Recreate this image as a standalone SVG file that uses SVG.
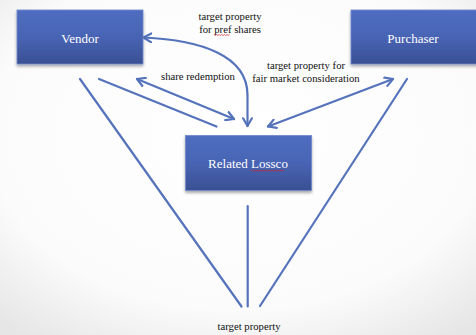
<svg xmlns="http://www.w3.org/2000/svg" width="476" height="335" viewBox="0 0 476 335">
<defs>
<radialGradient id="bg" cx="0.5" cy="0.4" r="0.75">
<stop offset="0" stop-color="#ffffff"/>
<stop offset="0.7" stop-color="#fbfbfb"/>
<stop offset="1" stop-color="#e6e6e6"/>
</radialGradient>
<linearGradient id="box" x1="0" y1="0" x2="0" y2="1">
<stop offset="0" stop-color="#4f6dc0"/>
<stop offset="0.5" stop-color="#4864b4"/>
<stop offset="1" stop-color="#3a4f93"/>
</linearGradient>
<filter id="sh" x="-10%" y="-10%" width="130%" height="140%">
<feGaussianBlur in="SourceAlpha" stdDeviation="1.5"/>
<feOffset dx="0" dy="2" result="b"/>
<feComponentTransfer><feFuncA type="linear" slope="0.35"/></feComponentTransfer>
<feMerge><feMergeNode/><feMergeNode in="SourceGraphic"/></feMerge>
</filter>
<marker id="ah" viewBox="0 0 10 10" refX="8" refY="5" markerWidth="5" markerHeight="5" orient="auto-start-reverse" markerUnits="strokeWidth">
<path d="M1,1 L8,5 L1,9" fill="none" stroke="#5573bb" stroke-width="2" stroke-linecap="round" stroke-linejoin="round"/>
</marker>
</defs>
<style>
.box{fill:url(#box);stroke:#6f88cc;stroke-width:0.8;filter:url(#sh)}
.nt{font-family:"Liberation Serif",serif;font-size:13px;fill:#ffffff;text-anchor:middle}
.lb{font-family:"Liberation Serif",serif;font-size:10.7px;fill:#111111;text-anchor:middle}
.c{fill:none;stroke:#5573bb;stroke-width:2.2;stroke-linecap:round}
.arr{marker-start:url(#ah);marker-end:url(#ah)}
.sq{fill:none;stroke:#d42020;stroke-width:0.7}
</style>
<rect x="0" y="0" width="476" height="335" fill="url(#bg)"/>
<g id="connectors">
<line class="c" x1="80" y1="79" x2="241.5" y2="306.5"/>
<line class="c" x1="99" y1="79" x2="216.5" y2="126.5"/>
<line class="c arr" x1="137" y1="79" x2="234" y2="119"/>
<path class="c arr" d="M143.5,37.5 C200,40 247.5,55 247.5,95 L247.5,126"/>
<line class="c arr" x1="393" y1="79" x2="268" y2="126.5"/>
<line class="c" x1="407" y1="79" x2="260" y2="306"/>
<line class="c" x1="247.7" y1="206" x2="247.7" y2="306.5"/>
</g>
<g id="vendor">
<rect class="box" x="17" y="10" width="126" height="54"/>
<text class="nt" x="80" y="42.5">Vendor</text>
</g>
<g id="purchaser">
<rect class="box" x="351" y="10" width="130" height="54"/>
<text class="nt" x="413" y="42.5">Purchaser</text>
</g>
<g id="related-lossco">
<rect class="box" x="185.5" y="135.5" width="126" height="55"/>
<text class="nt" x="248" y="167.5">Related Lossco</text>
<path class="sq" d="M251,170 l1.5,1.2 l1.5,-1.2 l1.5,1.2 l1.5,-1.2 l1.5,1.2 l1.5,-1.2 l1.5,1.2 l1.5,-1.2 l1.5,1.2 l1.5,-1.2 l1.5,1.2 l1.5,-1.2 l1.5,1.2 l1.5,-1.2 l1.5,1.2 l1.5,-1.2 l1.5,1.2 l1.5,-1.2 l1.5,1.2 l1.5,-1.2 l1.5,1.2 l1.5,-1.2"/>
</g>
<g id="labels">
<text class="lb" x="230" y="19.5">target property</text>
<text class="lb" x="230" y="32.5">for pref shares</text>
<path class="sq" d="M214,34.5 l1.3,1 l1.3,-1 l1.3,1 l1.3,-1 l1.3,1 l1.3,-1 l1.3,1 l1.3,-1 l1.3,1 l1.3,-1 l1.3,1 l1.3,-1"/>
<text class="lb" x="198" y="79.5">share redemption</text>
<text class="lb" x="306" y="68.5">target property for</text>
<text class="lb" x="306" y="81.5">fair market consideration</text>
<text class="lb" x="249" y="330">target property</text>
</g>
</svg>
